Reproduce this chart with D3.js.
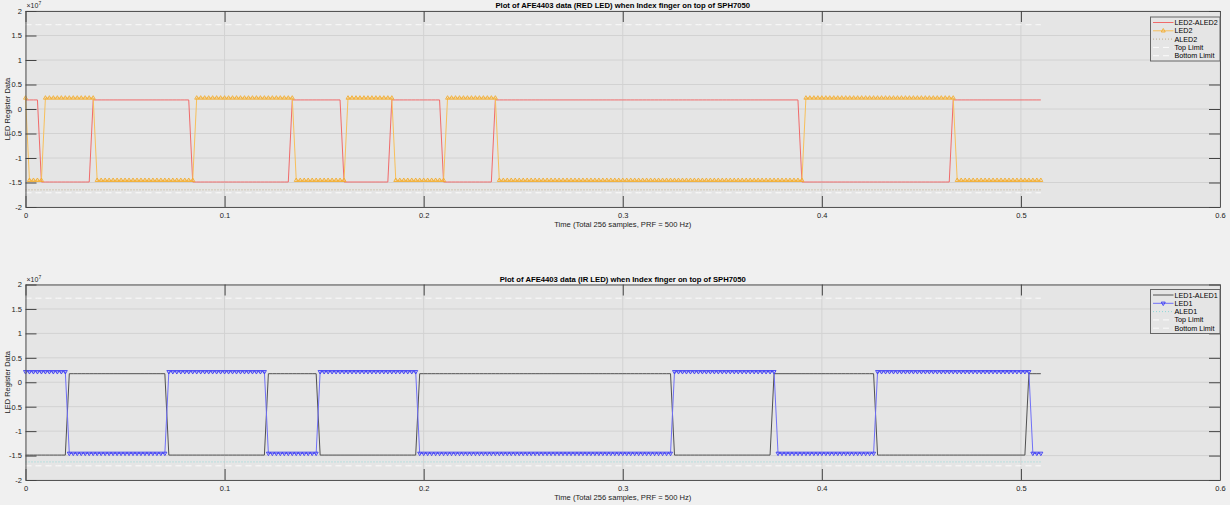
<!DOCTYPE html>
<html><head><meta charset="utf-8">
<script src="https://cdn.jsdelivr.net/npm/d3@7"></script>
<style>
body{margin:0;background:#f0f0f0;}
svg{display:block;font-family:"Liberation Sans",Arial,Helvetica,sans-serif;}
</style>
</head><body>
<svg id="chart" width="1230" height="505"></svg>
<script>
// ---------------- data (values in units of 1e7) ----------------
const PRF = 500;            // Hz, sample n is at time n / PRF
const N = 256;
const xTicks = [0, 0.1, 0.2, 0.3, 0.4, 0.5, 0.6];
const yTicks = [-2, -1.5, -1, -0.5, 0, 0.5, 1, 1.5, 2];
const xTickLabels = ["0", "0.1", "0.2", "0.3", "0.4", "0.5", "0.6"];
const yTickLabels = ["-2", "-1.5", "-1", "-0.5", "0", "0.5", "1", "1.5", "2"];

// runs: [firstSample, lastSample, value]
const led2AledRuns = [[0,3,0.185],[4,16,-1.49],[17,41,0.185],[42,66,-1.49],[67,79,0.185],[80,91,-1.49],[92,104,0.185],[105,117,-1.49],[118,194,0.185],[195,232,-1.49],[233,255,0.185]];
const led2Runs = [[0,0,0.225],[1,4,-1.455],[5,17,0.225],[18,42,-1.455],[43,67,0.225],[68,80,-1.455],[81,92,0.225],[93,105,-1.455],[106,118,0.225],[119,195,-1.455],[196,233,0.225],[234,255,-1.455]];
const aled2Runs = [[0,255,-1.65]];
const led1AledRuns = [[0,10,-1.49],[11,35,0.175],[36,60,-1.49],[61,73,0.175],[74,98,-1.49],[99,162,0.175],[163,187,-1.49],[188,213,0.175],[214,251,-1.49],[252,255,0.175]];
const led1Runs = [[0,10,0.215],[11,35,-1.455],[36,60,0.215],[61,73,-1.455],[74,98,0.215],[99,162,-1.455],[163,188,0.215],[189,213,-1.455],[214,252,0.215],[253,255,-1.455]];
const aled1Runs = [[0,255,-1.63]];
const topLimitRuns = [[0,255,1.72]];
const bottomLimitRuns = [[0,255,-1.71]];

const titles = ["Plot of AFE4403 data (RED LED) when Index finger on top of SPH7050",
                "Plot of AFE4403 data (IR LED) when Index finger on top of SPH7050"];
const xLabel = "Time (Total 256 samples, PRF = 500 Hz)";
const yLabel = "LED Register Data";
const legendTop = ["LED2-ALED2", "LED2", "ALED2", "Top Limit", "Bottom Limit"];
const legendBottom = ["LED1-ALED1", "LED1", "ALED1", "Top Limit", "Bottom Limit"];

// expand runs into per-sample points
function expand(runs) {
  const pts = [];
  runs.forEach(([a, b, v]) => { for (let n = a; n <= b; n++) pts.push({t: n / PRF, v}); });
  return pts;
}

// ---------------- drawing ----------------
const svg = d3.select("#chart");
const L = 25.5, R = 1220;
const x = d3.scaleLinear().domain([0, 0.6]).range([L, R]);

function panel(top, bottom, title, series, legendNames, legendTopY) {
  const y = d3.scaleLinear().domain([-2, 2]).range([bottom, top]);
  const g = svg.append("g");
  g.append("rect").attr("x", L).attr("y", top).attr("width", R - L).attr("height", bottom - top)
    .attr("fill", "#e5e5e5");
  // grid
  g.selectAll(".gy").data(yTicks).join("line")
    .attr("x1", L).attr("x2", R).attr("y1", d => y(d)).attr("y2", d => y(d))
    .attr("stroke", "#d2d2d2").attr("stroke-width", 1);
  g.selectAll(".gx").data(xTicks).join("line")
    .attr("y1", top).attr("y2", bottom).attr("x1", d => x(d)).attr("x2", d => x(d))
    .attr("stroke", "#d2d2d2").attr("stroke-width", 1);

  const clipId = "clip" + Math.round(top);
  svg.append("clipPath").attr("id", clipId).append("rect")
    .attr("x", L - 3).attr("y", top).attr("width", R - L + 3).attr("height", bottom - top);
  const dg = g.append("g").attr("clip-path", `url(#${clipId})`);
  const line = d3.line().x(d => x(d.t)).y(d => y(d.v));
  series.forEach(s => {
    const pts = expand(s.runs);
    dg.append("path").datum(pts).attr("d", line).attr("fill", "none")
      .attr("stroke", s.color).attr("stroke-width", s.width || 1)
      .attr("stroke-dasharray", s.dash || null);
    if (s.marker) {
      const sym = s.marker === "up" ? "M0,-2.3L2,1.2L-2,1.2Z" : "M0,2.3L2,-1.2L-2,-1.2Z";
      dg.selectAll(null).data(pts).join("path")
        .attr("d", sym).attr("transform", d => `translate(${x(d.t)},${y(d.v)})`)
        .attr("fill", "none").attr("stroke", s.mcolor).attr("stroke-width", 0.9);
    }
  });

  // axes
  const fmtX = (d, i) => xTickLabels[i];
  const fmtY = (d, i) => yTickLabels[i];
  const axB = g.append("g").attr("transform", `translate(0,${bottom})`)
    .call(d3.axisBottom(x).tickValues(xTicks).tickFormat(fmtX).tickSizeInner(-11).tickSizeOuter(0).tickPadding(16));
  const axT = g.append("g").attr("transform", `translate(0,${top})`)
    .call(d3.axisTop(x).tickValues(xTicks).tickFormat("").tickSizeInner(-11).tickSizeOuter(0));
  const axL = g.append("g").attr("transform", `translate(${L},0)`)
    .call(d3.axisLeft(y).tickValues(yTicks).tickFormat(fmtY).tickSizeInner(-11).tickSizeOuter(0).tickPadding(14));
  const axR = g.append("g").attr("transform", `translate(${R},0)`)
    .call(d3.axisRight(y).tickValues(yTicks).tickFormat("").tickSizeInner(-11).tickSizeOuter(0));
  [axB, axT, axL, axR].forEach(a => {
    a.selectAll("path.domain").attr("stroke", "#555");
    a.selectAll(".tick line").attr("stroke", "#444");
    a.selectAll("text").attr("fill", "#222").attr("font-size", "7.5px").attr("font-family", null);
  });
  axB.selectAll("text").attr("dy", "0.35em").attr("y", 8);
  axL.selectAll("text").attr("x", -3.5);

  // exponent
  const ex = g.append("text").attr("x", L + 1).attr("y", top - 3).attr("font-size", "7px").attr("fill", "#262626");
  ex.append("tspan").text("\u00d710");
  ex.append("tspan").attr("font-size", "5px").attr("dy", -3).text("7");

  // title, labels
  g.append("text").attr("x", (L + R) / 2).attr("y", top - 3).attr("text-anchor", "middle")
    .attr("font-size", "7.7px").attr("font-weight", "bold").attr("fill", "#000").text(title);
  g.append("text").attr("x", (L + R) / 2).attr("y", bottom + 20).attr("text-anchor", "middle")
    .attr("font-size", "7.6px").attr("fill", "#222").text(xLabel);
  g.append("text").attr("transform", `translate(10,${(top + bottom) / 2}) rotate(-90)`)
    .attr("text-anchor", "middle").attr("font-size", "7.5px").attr("fill", "#222").text(yLabel);

  // legend
  const lx = 1150.5, lw = 69.5, lh = 44;
  const lg = g.append("g");
  lg.append("rect").attr("x", lx).attr("y", legendTopY).attr("width", lw).attr("height", lh)
    .attr("fill", "#e5e5e5").attr("stroke", "#666").attr("stroke-width", 1);
  series.forEach((s, i) => {
    const yy = legendTopY + 5.5 + i * 8.3;
    lg.append("line").attr("x1", lx + 2.5).attr("x2", lx + 23).attr("y1", yy).attr("y2", yy)
      .attr("stroke", s.color).attr("stroke-width", s.width || 1).attr("stroke-dasharray", s.dash || null);
    if (s.marker) {
      const sym = s.marker === "up" ? "M0,-2.3L2,1.2L-2,1.2Z" : "M0,2.3L2,-1.2L-2,-1.2Z";
      lg.append("path").attr("d", sym).attr("transform", `translate(${lx + 12.75},${yy})`)
        .attr("fill", "none").attr("stroke", s.mcolor).attr("stroke-width", 0.9);
    }
    lg.append("text").attr("x", lx + 24).attr("y", yy).attr("dy", "0.35em")
      .attr("font-size", "7.2px").attr("fill", "#000").text(legendNames[i]);
  });
}

panel(11, 207, titles[0], [
  {runs: led2AledRuns, color: "#f06a6a"},
  {runs: led2Runs, color: "#f7bf5a", marker: "up", mcolor: "#f3ad2e"},
  {runs: aled2Runs, color: "#bfae8a", dash: "1,2"},
  {runs: topLimitRuns, color: "#fbfbfb", dash: "6,4"},
  {runs: bottomLimitRuns, color: "#fbfbfb", dash: "6,4"}
], legendTop, 17);

panel(284.5, 480, titles[1], [
  {runs: led1AledRuns, color: "#505050"},
  {runs: led1Runs, color: "#6f6ff7", marker: "down", mcolor: "#3b3bf5"},
  {runs: aled1Runs, color: "#8fd8d8", dash: "1,2"},
  {runs: topLimitRuns, color: "#fbfbfb", dash: "6,4"},
  {runs: bottomLimitRuns, color: "#fbfbfb", dash: "6,4"}
], legendBottom, 289.5);
</script>
</body></html>
